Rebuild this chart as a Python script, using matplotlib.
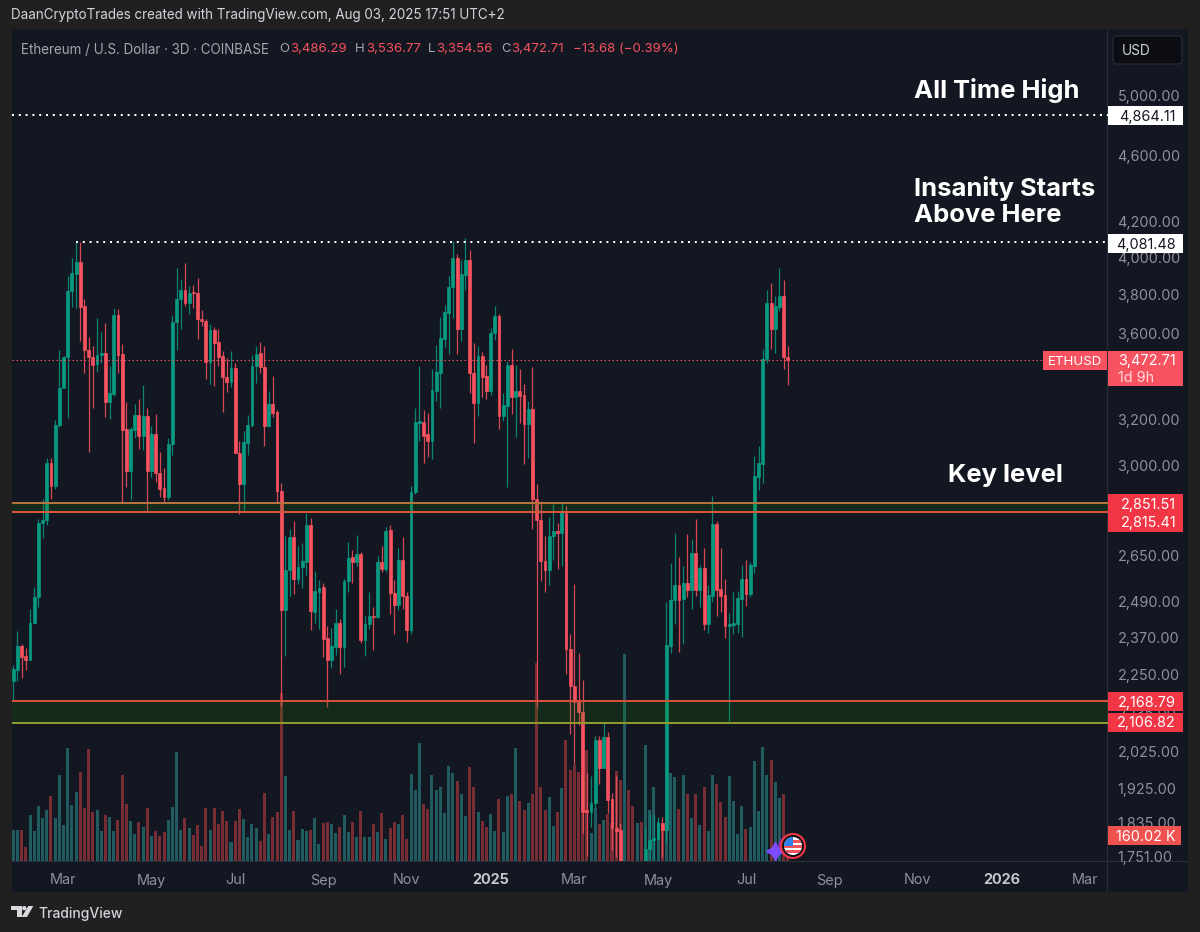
"""
plot.py - ETH/USD 3D candles with support zones, TradingView look.
Prices and volume (in K) were read off the reference picture.
"""

import numpy as np
import matplotlib
matplotlib.use("Agg")
import matplotlib.pyplot as plt
from matplotlib.patches import Rectangle, Circle, FancyBboxPatch, Polygon
from matplotlib.lines import Line2D
from matplotlib.ticker import NullLocator
from matplotlib.transforms import Affine2D

plt.rcParams["font.family"] = ["Inter", "DejaVu Sans"]

W, H = 1200, 932

opens = [2232, 2265, 2342, 2309, 2296, 2416, 2505, 2774, 2784, 3013,
         2918, 3174, 3339, 3484, 3815, 3908, 3975, 3739, 3519, 3487,
         3452, 3495, 3503, 3276, 3313, 3693, 3500, 3155, 2980, 3152,
         3218, 3126, 3214, 2980, 3135, 2972, 2910, 2875, 3092, 3656,
         3775, 3822, 3756, 3812, 3805, 3672, 3664, 3463, 3618, 3557,
         3490, 3391, 3368, 3435, 3055, 2926, 3098, 3174, 3443, 3503,
         3437, 3170, 3267, 3231, 2899, 2460, 2599, 2721, 2567, 2609,
         2628, 2765, 2454, 2522, 2538, 2367, 2296, 2339, 2418, 2339,
         2560, 2646, 2629, 2657, 2360, 2413, 2441, 2435, 2628, 2602,
         2747, 2519, 2477, 2635, 2508, 2393, 2893, 3182, 3189, 3134,
         3106, 3328, 3408, 3573, 3704, 3836, 3997, 3623, 3902, 3984,
         3410, 3273, 3490, 3396, 3325, 3601, 3687, 3215, 3260, 3447,
         3300, 3325, 3307, 3179, 3245, 2867, 2784, 2631, 2600, 2724,
         2743, 2737, 2811, 2331, 2216, 2168, 2139, 1868, 1862, 1886,
         2056, 1978, 2066, 1895, 1823, 1817, 1560, 1660, 1580, 1570,
         1640, 1742, 1769, 1793, 1794, 1835, 1817, 2342, 2494, 2546,
         2496, 2552, 2528, 2660, 2528, 2607, 2413, 2509, 2769, 2531,
         2510, 2406, 2410, 2414, 2498, 2569, 2515, 2613, 2956, 3009,
         3476, 3756, 3623, 3736, 3791, 3486.29]
highs = [2280, 2390, 2349, 2334, 2462, 2538, 2787, 2866, 3031, 3034,
         3196, 3519, 3490, 3898, 3997, 4086, 4086, 3775, 3584, 3539,
         3677, 3609, 3652, 3443, 3727, 3722, 3547, 3277, 3167, 3266,
         3290, 3354, 3248, 3171, 3221, 3057, 2992, 3119, 3693, 3942,
         3879, 3969, 3843, 3849, 3884, 3719, 3672, 3648, 3634, 3623,
         3515, 3482, 3515, 3455, 3106, 3148, 3218, 3495, 3539, 3560,
         3539, 3325, 3396, 3240, 2929, 2724, 2749, 2780, 2687, 2697,
         2810, 2791, 2595, 2563, 2552, 2408, 2399, 2465, 2429, 2569,
         2703, 2672, 2728, 2666, 2441, 2521, 2471, 2651, 2687, 2757,
         2766, 2563, 2679, 2720, 2522, 2918, 3251, 3444, 3240, 3226,
         3427, 3544, 3685, 3744, 3896, 4091, 4017, 3984, 4105, 4040,
         3552, 3540, 3511, 3447, 3626, 3741, 3699, 3318, 3468, 3523,
         3447, 3427, 3359, 3280, 3438, 2925, 2858, 2724, 2795, 2846,
         2772, 2851, 2839, 2379, 2548, 2318, 2233, 1965, 1957, 2068,
         2067, 2104, 2080, 1912, 1957, 1835, 1690, 1700, 1640, 1680,
         1700, 1825, 1857, 1855, 1850, 1850, 2488, 2623, 2736, 2645,
         2615, 2730, 2713, 2787, 2617, 2678, 2546, 2878, 2781, 2678,
         2567, 2449, 2521, 2525, 2617, 2635, 2627, 3041, 3083, 3524,
         3822, 3858, 3791, 3939, 3875, 3536.77]
lows = [2173, 2231, 2239, 2265, 2296, 2416, 2471, 2718, 2765, 2867,
        2907, 3167, 3339, 3204, 3733, 3728, 3565, 3408, 3057, 3248,
        3416, 3455, 3211, 3200, 3305, 3408, 2849, 2913, 2862, 3119,
        3071, 3067, 2816, 2955, 2935, 2875, 2855, 2862, 3045, 3519,
        3624, 3739, 3699, 3728, 3571, 3640, 3380, 3359, 3349, 3443,
        3233, 3322, 3346, 3053, 2807, 2816, 3045, 3164, 3365, 3411,
        3085, 3167, 3211, 2855, 2155, 2309, 2508, 2514, 2549, 2536,
        2581, 2393, 2418, 2397, 2307, 2151, 2272, 2312, 2252, 2275,
        2522, 2554, 2615, 2351, 2309, 2396, 2328, 2433, 2593, 2593,
        2447, 2379, 2460, 2464, 2355, 2379, 2886, 3106, 3010, 3035,
        3029, 3282, 3251, 3533, 3500, 3680, 3500, 3563, 3822, 3318,
        3095, 3214, 3300, 3291, 3308, 3568, 3155, 3193, 2913, 3223,
        3123, 3182, 3006, 3034, 2750, 2152, 2561, 2522, 2547, 2636,
        2604, 2615, 2252, 2073, 1990, 2099, 1809, 1753, 1825, 1872,
        1935, 1978, 1859, 1767, 1751, 1700, 1385, 1540, 1530, 1560,
        1580, 1700, 1743, 1720, 1792, 1751, 1788, 2317, 2413, 2322,
        2349, 2505, 2462, 2508, 2471, 2393, 2384, 2488, 2440, 2454,
        2368, 2112, 2379, 2382, 2371, 2473, 2503, 2589, 2902, 2930,
        3457, 3526, 3505, 3714, 3427, 3354.56]
closes = [2267, 2342, 2307, 2296, 2418, 2505, 2775, 2784, 3013, 2918,
          3174, 3340, 3487, 3817, 3911, 3975, 3736, 3519, 3487, 3449,
          3495, 3503, 3276, 3316, 3693, 3495, 3152, 2980, 3155, 3218,
          3126, 3214, 2980, 3135, 2969, 2907, 2875, 3092, 3658, 3775,
          3822, 3756, 3808, 3808, 3672, 3662, 3463, 3618, 3552, 3487,
          3390, 3368, 3435, 3053, 2926, 3099, 3174, 3443, 3500, 3437,
          3170, 3267, 3228, 2899, 2460, 2599, 2721, 2567, 2611, 2630,
          2765, 2457, 2524, 2535, 2364, 2296, 2341, 2418, 2339, 2561,
          2644, 2629, 2657, 2360, 2414, 2440, 2437, 2628, 2603, 2744,
          2518, 2477, 2635, 2507, 2393, 2895, 3186, 3192, 3128, 3106,
          3330, 3413, 3576, 3707, 3838, 3997, 3623, 3906, 3984, 3408,
          3273, 3490, 3393, 3325, 3604, 3687, 3215, 3262, 3447, 3300,
          3325, 3303, 3179, 3245, 2865, 2784, 2631, 2600, 2724, 2743,
          2737, 2810, 2330, 2216, 2168, 2138, 1863, 1862, 1886, 2056,
          1978, 2066, 1893, 1821, 1815, 1742, 1660, 1580, 1570, 1640,
          1600, 1770, 1792, 1796, 1835, 1817, 2344, 2494, 2546, 2494,
          2552, 2528, 2660, 2528, 2607, 2413, 2510, 2769, 2528, 2509,
          2406, 2412, 2415, 2500, 2569, 2515, 2616, 2958, 3012, 3476,
          3756, 3623, 3739, 3791, 3486, 3472.71]
volumes_k = [184, 184, 184, 86, 274, 178, 328, 258, 304, 390,
             258, 514, 216, 676, 336, 412, 532, 318, 670, 294,
             304, 180, 276, 266, 180, 244, 514, 342, 240, 162,
             232, 202, 318, 150, 180, 152, 174, 244, 324, 656,
             188, 260, 200, 158, 216, 88, 318, 188, 318, 224,
             298, 242, 112, 240, 314, 250, 142, 224, 200, 118,
             408, 162, 264, 294, 1010, 510, 188,
             298, 124, 190, 180, 184, 258, 100, 226, 236, 220,
             168, 202, 276, 174, 232, 142, 298, 146, 142, 220,
             174, 286, 132, 198, 232, 222, 276, 134, 524, 426,
             706, 342, 314, 514, 428, 446, 286, 568, 530, 478,
             400, 270, 564, 446, 296, 240, 204, 280, 178, 372,
             172, 388, 400, 678, 360, 308, 348, 400, 1188, 442,
             304, 382, 212, 296,
             438, 726, 548, 576, 534, 516, 664, 168, 320, 220,
             246, 280, 230, 542, 484, 1240, 424, 328, 230, 236,
             696, 306, 446, 236, 220, 184, 530, 504, 312, 518,
             402, 260, 402, 216, 444, 182, 514, 462, 354, 264,
             508, 360, 160, 328, 194, 204, 600, 300, 684, 518,
             604, 472, 380, 400, 160.02]

price_ticks = [5000, 4600, 4200, 4000, 3800, 3600, 3200, 3000, 2650,
               2490, 2370, 2250, 2135, 2025, 1925, 1835, 1751]
month_pos = [12, 33, 53, 74, 94, 114, 134, 154, 175, 195, 216, 236, 256]
month_labels = ["Mar", "May", "Jul", "Sep", "Nov", "2025", "Mar", "May",
                "Jul", "Sep", "Nov", "2026", "Mar"]

ath_level = 4864.11
insanity_level = 4081.48
key_zone = (2815.41, 2851.51)
low_zone = (2106.82, 2168.79)
last_price = 3472.71

BG = "#202020"
PANEL = "#131722"
BORDER = "#2a2e39"
GREEN = "#089981"
RED = "#f7525f"
TICK = "#8e919b"
TAG_RED = "#f23645"
AXIS_FONT = 10.4

# pixel coords, y down, for the window chrome (figure is always dpi 100)
pix = Affine2D().scale(1, -1).translate(0, H)


def add_rect(x0, y0, x1, y1, color, z=5, **kw):
    fig.add_artist(Rectangle((x0, y0), x1 - x0, y1 - y0, transform=pix,
                             facecolor=color, edgecolor="none", zorder=z, **kw))


def add_text(x, y, s, color, size=AXIS_FONT, ha="left", weight="normal", z=6):
    fig.add_artist(plt.Text(x, y, s, transform=pix, color=color, fontsize=size,
                            ha=ha, va="center_baseline", fontweight=weight,
                            zorder=z))


def price_tag(y, label, bg, fg, x1=1183):
    add_rect(1108, y - 9.5, x1, y + 9.5, bg)
    add_text(1176, y, label, fg, ha="right")


fig = plt.figure(figsize=(W / 100, H / 100), dpi=100, facecolor=BG)
add_rect(12, 29, 1188, 892, PANEL, z=-2)
add_rect(1107, 29, 1108, 892, BORDER, z=-1)
add_rect(12, 861, 1188, 862, BORDER, z=-1)

rect = [12 / W, 1 - 861 / H, (1107.7 - 12) / W, (861 - 29) / H]
vol_ax = fig.add_axes(rect)
ax = fig.add_axes(rect, sharex=vol_ax)
ax.patch.set_visible(False)
vol_ax.patch.set_visible(False)

idx = np.arange(len(closes))
o, h, l, c = map(np.array, (opens, highs, lows, closes))
up = c >= o

# volume underneath, on its own scale (about 6K per pixel)
vol_colors = np.where(up, "#2a8a88", "#bb3c41")
vol_ax.bar(idx, volumes_k, width=0.72, color=vol_colors, alpha=0.6, linewidth=0)
vol_ax.set_ylim(0, 4992)
vol_ax.axis("off")

# candles
colors = np.where(up, GREEN, RED)
ax.vlines(idx, l, h, colors=colors, linewidth=0.9, zorder=3, alpha=0.85)
ax.bar(idx, np.abs(c - o), bottom=np.minimum(o, c), width=0.68, color=colors,
       edgecolor=colors, linewidth=0.5, zorder=4)

ax.set_yscale("log")
ax.set_ylim(1741, 5476)
ax.set_xlim(-0.31, 261.4)

# support zones go over the candles
for lo, hi in (key_zone, low_zone):
    ax.axhspan(lo, hi, facecolor="#1a8f00", alpha=0.17, linewidth=0, zorder=5)
ax.axhline(key_zone[1], color="#b8723c", lw=1.44, zorder=6)
ax.axhline(key_zone[0], color="#d8563a", lw=1.44, zorder=6)
ax.axhline(low_zone[1], color="#d8503a", lw=1.44, zorder=6)
ax.axhline(low_zone[0], color="#8f9a2a", lw=1.44, zorder=6)

# levels
ax.axhline(ath_level, color="white", lw=1.44, ls=(0, (1, 2.4)), zorder=6)
ax.hlines(insanity_level, 15, 261.4, color="white", lw=1.44,
          ls=(0, (1, 2.4)), zorder=6)
ax.hlines(last_price, -0.31, 246, color=RED, lw=0.72,
          ls=(0, (1.5, 2.5)), zorder=6)

# axes
ax.set_yticks(price_ticks)
ax.set_yticklabels([f"{p:,.2f}" for p in price_ticks])
ax.yaxis.set_minor_locator(NullLocator())
ax.yaxis.tick_right()
ax.tick_params(axis="y", which="both", length=0, pad=7, colors=TICK,
               labelsize=AXIS_FONT)
ax.set_xticks(month_pos)
ax.set_xticklabels(month_labels)
ax.tick_params(axis="x", length=0, pad=9, colors=TICK, labelsize=AXIS_FONT)
for lab in ax.get_xticklabels():
    if lab.get_text() in ("2025", "2026"):
        lab.set_fontweight("bold")
        lab.set_color("#c4c7cf")
for side in ("top", "left", "right", "bottom"):
    ax.spines[side].set_visible(False)

# header
add_text(11, 14, "DaanCryptoTrades created with TradingView.com, "
         "Aug 03, 2025 17:51 UTC+2", "#d1d4dc", size=9.7)
add_text(21, 48, "Ethereum / U.S. Dollar · 3D · COINBASE", "#a3a6af", size=9.7)
for x, s in ((279, "O"), (355, "H"), (428, "L"), (501, "C")):
    add_text(x, 48, s, "#a3a6af", size=9.5)
for x, s in ((290, "3,486.29"), (366, "3,536.77"), (436, "3,354.56"),
             (511, "3,472.71"), (573, "−13.68 (−0.39%)")):
    add_text(x, 48, s, RED, size=9.5)

# USD button
fig.add_artist(FancyBboxPatch((1113, 36), 69, 28, transform=pix,
                              boxstyle="round,pad=0,rounding_size=4",
                              facecolor="#0b0d12", edgecolor=BORDER, lw=0.8,
                              zorder=5))
add_text(1122, 49.5, "USD", "#d1d4dc", size=9.8)

# annotations
add_text(914, 88, "All Time High", "white", size=18.4, weight="bold")
add_text(914, 186, "Insanity Starts", "white", size=18.4, weight="bold")
add_text(914, 213, "Above Here", "white", size=18.4, weight="bold")
add_text(948, 473, "Key level", "white", size=18.4, weight="bold")

# price tags
price_tag(115.5, f"{ath_level:,.2f}", "white", "#131722")
price_tag(243, f"{insanity_level:,.2f}", "white", "#131722")
price_tag(503, f"{key_zone[1]:,.2f}", TAG_RED, "white")
price_tag(522, f"{key_zone[0]:,.2f}", TAG_RED, "white")
price_tag(701.5, f"{low_zone[1]:,.2f}", TAG_RED, "white")
price_tag(722, f"{low_zone[0]:,.2f}", TAG_RED, "white")
price_tag(835.5, "160.02 K", "#f0534f", "white", x1=1181)
add_rect(1108, 351, 1183, 386, RED)
add_text(1176, 360, f"{last_price:,.2f}", "white", ha="right")
add_text(1118, 376.5, "1d 9h", "#ffd9dc")
add_rect(1043, 351, 1107, 370, RED)
add_text(1048, 360.5, "ETHUSD", "white", size=9.6)

# little news flag at the last bar
fig.add_artist(Circle((788, 846), 10, transform=pix, facecolor="#7a2fb0",
                      edgecolor="none", zorder=5))
fig.add_artist(Line2D([775], [851], transform=pix, marker=(4, 1, 0),
                      markersize=13, color="#7b4dff", zorder=6))
fig.add_artist(Circle((793, 846), 12, transform=pix, facecolor="#0e1017",
                      edgecolor=TAG_RED, lw=1.5, zorder=6))
flag = Circle((793, 846), 9, transform=pix, facecolor="white",
              edgecolor="none", zorder=7)
fig.add_artist(flag)
for y0 in (840, 845, 850):
    st = Rectangle((783, y0), 20, 2.6, transform=pix, facecolor="#f0535a",
                   edgecolor="none", zorder=8)
    fig.add_artist(st)
    st.set_clip_path(flag)
canton = Rectangle((783, 836), 10, 9.5, transform=pix, facecolor="#2f80ed",
                   edgecolor="none", zorder=9)
fig.add_artist(canton)
canton.set_clip_path(flag)

# TradingView logo
logo = "#d8dade"
add_rect(11, 906, 21.7, 910, logo)
add_rect(16.7, 906, 21.7, 917, logo)
fig.add_artist(Circle((24.3, 908.2), 2.2, transform=pix, facecolor=logo,
                      edgecolor="none", zorder=5))
fig.add_artist(Polygon([(28.3, 906), (33.3, 906), (27, 917), (21.7, 917)],
                       closed=True, transform=pix, facecolor=logo,
                       edgecolor="none", zorder=5))
add_text(38, 912.5, "TradingView", "#d1d4dc", size=10, weight="medium")

fig.savefig("out.png", dpi=100, facecolor=BG)
